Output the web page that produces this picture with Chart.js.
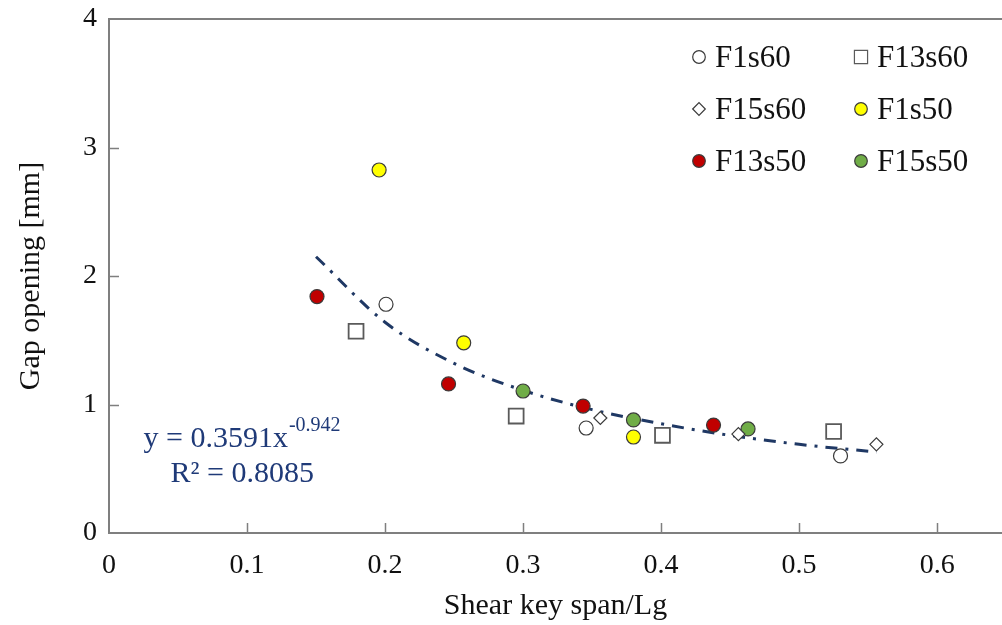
<!DOCTYPE html>
<html>
<head>
<meta charset="utf-8">
<script src="https://cdn.jsdelivr.net/npm/chart.js@4.4.1/dist/chart.umd.min.js"></script>
<style>
  html, body { margin: 0; padding: 0; background: #fff; }
</style>
</head>
<body>
<canvas id="graf" width="1002" height="625"></canvas>
<script>
const ctx = document.getElementById('graf').getContext('2d');

// values: [x, y] pairs
const f1s60 = [[0.2007, 1.78], [0.3457, 0.817], [0.530, 0.60]];
const f13s60 = [[0.179, 1.57], [0.295, 0.91], [0.401, 0.76], [0.525, 0.79]];
const f15s60 = [[0.356, 0.895], [0.456, 0.77], [0.556, 0.69]];
const f1s50 = [[0.1957, 2.825], [0.257, 1.48], [0.380, 0.747]];
const f13s50 = [[0.1507, 1.84], [0.246, 1.16], [0.3435, 0.988], [0.438, 0.84]];
const f15s50 = [[0.300, 1.105], [0.380, 0.88], [0.463, 0.81]];

// power trendline as traced on the picture
const trendX = [0.15, 0.2, 0.25, 0.3, 0.35, 0.4, 0.45, 0.5, 0.556];
const trendY = [2.15, 1.64, 1.32, 1.11, 0.96, 0.85, 0.76, 0.69, 0.63];

const xTicks = [0, 0.1, 0.2, 0.3, 0.4, 0.5, 0.6];
const yTicks = [0, 1, 2, 3, 4];

const toPts = (arr) => arr.map((p) => ({ x: p[0], y: p[1] }));

const serif = '"Liberation Serif", "Times New Roman", serif';
const navy = '#1f3a78';

const datasets = [
  { label: 'F1s60', data: toPts(f1s60), pointStyle: 'circle', pointRadius: 7, backgroundColor: '#ffffff', borderColor: '#3a3a3a', legendRadius: 6.3 },
  { label: 'F13s60', data: toPts(f13s60), pointStyle: 'rect', pointRadius: 10.5, backgroundColor: '#ffffff', borderColor: '#5a5a5a', borderWidth: 1.8, legendRadius: 9.3 },
  { label: 'F15s60', data: toPts(f15s60), pointStyle: 'rectRot', pointRadius: 6.5, backgroundColor: '#ffffff', borderColor: '#3a3a3a', legendRadius: 6.3 },
  { label: 'F1s50', data: toPts(f1s50), pointStyle: 'circle', pointRadius: 7, backgroundColor: '#ffff00', borderColor: '#3a3a3a', legendRadius: 6.3 },
  { label: 'F13s50', data: toPts(f13s50), pointStyle: 'circle', pointRadius: 7, backgroundColor: '#c00000', borderColor: '#3a3a3a', legendRadius: 6.3 },
  { label: 'F15s50', data: toPts(f15s50), pointStyle: 'circle', pointRadius: 7, backgroundColor: '#70ad47', borderColor: '#3a3a3a', legendRadius: 6.3 },
].map((d) => Object.assign({ type: 'scatter', borderWidth: 1.2, pointHoverRadius: d.pointRadius }, d));

datasets.push({
  type: 'line',
  label: 'trend',
  data: trendX.map((x, i) => ({ x, y: trendY[i] })),
  borderColor: '#1f3864',
  borderWidth: 3,
  borderDash: [12, 8, 3, 8],
  pointRadius: 0,
  fill: false,
  cubicInterpolationMode: 'monotone',
  order: 10,
});

// inward tick marks + top frame line
const frame = {
  id: 'frame',
  afterDraw(chart) {
    const { ctx, chartArea: a, scales } = chart;
    ctx.save();
    ctx.strokeStyle = '#7f7f7f';
    ctx.lineWidth = 2;
    ctx.beginPath();
    ctx.moveTo(a.left - 1, a.top);
    ctx.lineTo(a.right, a.top);
    ctx.stroke();
    ctx.lineWidth = 1.5;
    ctx.beginPath();
    yTicks.slice(1, -1).forEach((v) => {
      const py = Math.round(scales.y.getPixelForValue(v)) + 0.5;
      ctx.moveTo(a.left, py);
      ctx.lineTo(a.left + 10, py);
    });
    xTicks.slice(1).forEach((v) => {
      const px = Math.round(scales.x.getPixelForValue(v)) + 0.5;
      ctx.moveTo(px, a.bottom);
      ctx.lineTo(px, a.bottom - 10);
    });
    ctx.stroke();
    ctx.restore();
  },
};

// two-column legend inside the plot
const legendBox = {
  id: 'legendBox',
  afterDraw(chart) {
    const { ctx } = chart;
    const colX = [699, 861];
    const rowY = [57, 109, 161];
    ctx.save();
    ctx.font = '31px ' + serif;
    ctx.textBaseline = 'middle';
    chart.data.datasets.slice(0, 6).forEach((d, i) => {
      const cx = colX[i % 2];
      const cy = rowY[Math.floor(i / 2)];
      ctx.fillStyle = d.backgroundColor;
      ctx.strokeStyle = d.borderColor;
      ctx.lineWidth = 1.2;
      Chart.helpers.drawPoint(ctx, { pointStyle: d.pointStyle, radius: d.legendRadius, borderWidth: 1.2 }, cx, cy);
      ctx.fillStyle = '#111';
      ctx.fillText(d.label, cx + 16, cy + 2);
    });
    ctx.restore();
  },
};

// equation of the trendline
const equation = {
  id: 'equation',
  afterDraw(chart) {
    const { ctx, scales } = chart;
    const x0 = scales.x.getPixelForValue(0.025);
    const y0 = scales.y.getPixelForValue(0.67);
    ctx.save();
    ctx.fillStyle = navy;
    ctx.textBaseline = 'alphabetic';
    ctx.font = '30px ' + serif;
    const main = 'y = 0.3591x';
    ctx.fillText(main, x0, y0);
    const w = ctx.measureText(main).width;
    ctx.font = '20px ' + serif;
    ctx.fillText('-0.942', x0 + w + 1, y0 - 16);
    ctx.font = '30px ' + serif;
    ctx.fillText('R\u00b2 = 0.8085', x0 + 27, y0 + 35);
    ctx.restore();
  },
};

const setTicks = (scale, list) => {
  scale.ticks = list.map((v) => ({ value: v }));
};

const config = {
  data: { datasets },
  options: {
    responsive: false,
    animation: false,
    devicePixelRatio: 1,
    layout: { autoPadding: false, padding: { top: 19, right: 0, left: 0, bottom: 0 } },
    plugins: {
      legend: { display: false },
      tooltip: { enabled: false },
    },
    scales: {
      x: {
        type: 'linear',
        min: 0,
        max: 0.647,
        grid: { display: false, drawTicks: false },
        border: { display: true, color: '#7f7f7f', width: 2 },
        afterBuildTicks: (scale) => setTicks(scale, xTicks),
        afterFit: (scale) => { scale.height = 92; scale.paddingRight = 0; },
        ticks: {
          padding: 16,
          color: '#111',
          font: { family: serif, size: 28 },
          callback: (v) => String(v),
        },
        title: {
          display: true,
          text: 'Shear key span/Lg',
          color: '#111',
          font: { family: serif, size: 30 },
          padding: { bottom: 1 },
        },
      },
      y: {
        type: 'linear',
        min: 0,
        max: 4,
        grid: { display: false, drawTicks: false },
        border: { display: true, color: '#7f7f7f', width: 2 },
        afterBuildTicks: (scale) => setTicks(scale, yTicks),
        afterFit: (scale) => { scale.width = 109; scale.paddingTop = 0; scale.paddingBottom = 0; },
        ticks: {
          padding: 12,
          color: '#111',
          font: { family: serif, size: 28 },
        },
        title: {
          display: true,
          text: 'Gap opening [mm]',
          color: '#111',
          font: { family: serif, size: 30 },
          padding: { top: 13 },
        },
      },
    },
  },
  plugins: [frame, legendBox, equation],
};

const myChart = new Chart(ctx, config);
</script>
</body>
</html>
